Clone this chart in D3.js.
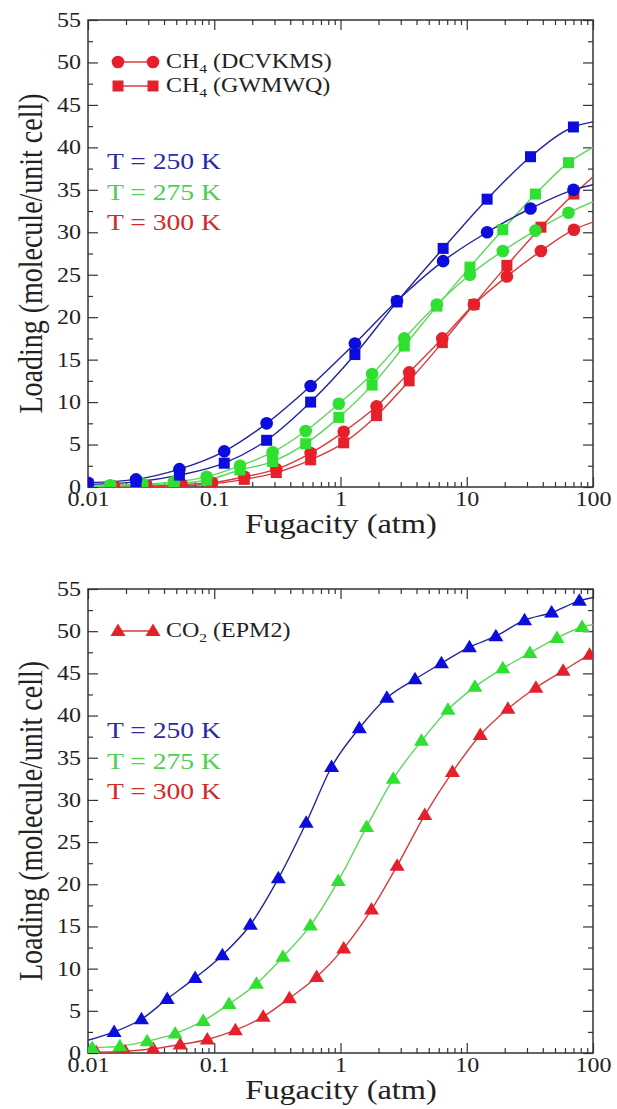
<!DOCTYPE html>
<html lang="en">
<head>
<meta charset="UTF-8">
<title>Methane and CO2 adsorption isotherms</title>
<script src="https://cdn.jsdelivr.net/npm/d3@7"></script>
<style>
  body { margin: 0; background: #fff; }
  svg { display: block; }
  svg text { font-family: "Liberation Serif", "Times New Roman", serif; }
</style>
</head>
<body>
<svg width="617" height="1109"></svg>
<script>
// ---- tick values / labels ----
const fugacityTicks = [0.01, 0.1, 1, 10, 100];
const fugacityLabels = ['0.01', '0.1', '1', '10', '100'];
const loadingTicks = [0, 5, 10, 15, 20, 25, 30, 35, 40, 45, 50, 55];
const tempLabels = ['T = 250 K', 'T = 275 K', 'T = 300 K'];

// ---- CH4 (top panel) ----
const ch4F250 = [0.01, 0.024, 0.053, 0.12, 0.26, 0.58, 1.3, 2.8, 6.5, 14.5, 32, 70];
const ch4Dcvkms250 = [0.5, 0.9, 2.1, 4.2, 7.5, 11.9, 16.9, 21.9, 26.6, 30.0, 32.8, 35.0];
const ch4Gwmwq250 = [0.3, 0.6, 1.4, 2.8, 5.5, 10.0, 15.6, 21.8, 28.1, 33.9, 38.9, 42.4];

const ch4F275 = [0.015, 0.027, 0.048, 0.087, 0.16, 0.29, 0.53, 0.97, 1.78, 3.2, 5.8, 10.6, 19.3, 35, 64];
const ch4Dcvkms275 = [0.2, 0.35, 0.6, 1.2, 2.5, 4.1, 6.6, 9.8, 13.3, 17.5, 21.5, 25.0, 27.8, 30.2, 32.3];
const ch4Gwmwq275 = [0.1, 0.2, 0.4, 0.8, 2.0, 3.0, 5.1, 8.2, 12.0, 16.6, 21.3, 25.9, 30.3, 34.5, 38.2];

const ch4F300 = [0.016, 0.029, 0.055, 0.096, 0.173, 0.31, 0.58, 1.06, 1.93, 3.5, 6.4, 11.4, 20.8, 38.7, 70.6];
const ch4Dcvkms300 = [0.05, 0.15, 0.3, 0.5, 1.2, 2.1, 4.0, 6.5, 9.5, 13.5, 17.5, 21.5, 24.8, 27.8, 30.3];
const ch4Gwmwq300 = [0.0, 0.05, 0.15, 0.35, 0.9, 1.7, 3.2, 5.2, 8.4, 12.5, 17.0, 21.5, 26.1, 30.6, 34.5];

// where the fitted curves meet the axes (loading at f = 0.01 and f = 100)
const ch4Dcvkms250Ends = [0.5, 35.6];
const ch4Gwmwq250Ends = [0.3, 43.0];
const ch4Dcvkms275Ends = [0.15, 33.6];
const ch4Gwmwq275Ends = [0.05, 40.0];
const ch4Dcvkms300Ends = [0.0, 31.2];
const ch4Gwmwq300Ends = [0.0, 36.5];

// ---- CO2 (bottom panel) ----
const co2F250 = [0.0161, 0.0265, 0.0424, 0.0706, 0.116, 0.193, 0.322, 0.535, 0.85, 1.41, 2.33, 3.89, 6.3, 10.5, 17.0, 28.7, 47, 78];
const co2Epm2250 = [2.5, 4.0, 6.4, 8.9, 11.6, 15.2, 20.7, 27.3, 33.9, 38.5, 42.1, 44.3, 46.2, 48.1, 49.4, 51.3, 52.2, 53.6];

const co2F275 = [0.0108, 0.0179, 0.0294, 0.049, 0.0818, 0.131, 0.216, 0.35, 0.577, 0.96, 1.61, 2.62, 4.38, 7.1, 11.6, 19.3, 31.6, 51.8, 82];
const co2Epm2275 = [0.6, 0.8, 1.4, 2.3, 3.8, 5.8, 8.2, 11.4, 15.1, 20.4, 26.8, 32.5, 37.0, 40.7, 43.4, 45.6, 47.4, 49.2, 50.5];

const co2F300 = [0.0116, 0.0197, 0.0328, 0.0537, 0.0881, 0.147, 0.244, 0.394, 0.647, 1.06, 1.76, 2.81, 4.65, 7.7, 12.8, 21.2, 35.3, 58, 94];
const co2Epm2300 = [0.1, 0.2, 0.5, 1.0, 1.6, 2.7, 4.3, 6.5, 9.0, 12.4, 17.0, 22.2, 28.2, 33.3, 37.7, 40.8, 43.3, 45.3, 47.2];

const co2Epm2250Ends = [1.5, 54.0];
const co2Epm2275Ends = [0.5, 50.8];
const co2Epm2300Ends = [0.1, 47.4];

// ---- styling ----
const FONT = '"Liberation Serif", "Times New Roman", serif';
const SX = 1.2; // the source figure's lettering is a little wide
const colors = {
  250: { mark: '#0c0cdc', line: '#23239c', text: '#2b2ba6' },
  275: { mark: '#30e030', line: '#5ad85a', text: '#4fcf4f' },
  300: { mark: '#e6202a', line: '#d83a3a', text: '#d02a2a' }
};

const svg = d3.select('svg');
svg.append('rect').attr('width', 617).attr('height', 1109).attr('fill', '#fff');

const left = 88, right = 593;

const x = d3.scaleLog().domain([0.01, 100]).range([left, right]);

const minorX = [];
[0.01, 0.1, 1, 10].forEach(d => d3.range(2, 10).forEach(m => minorX.push(d * m)));
const minorY = d3.range(2.5, 55, 5);

const markerPath = {
  circle: d3.symbol().type(d3.symbolCircle).size(125)(),
  square: 'M-5.5,-5.5H5.5V5.5H-5.5Z',
  triangle: 'M0,-7.5L7.5,5L-7.5,5Z'
};

function zip(fs, vs) {
  return fs.map((f, i) => ({ f: f, v: vs[i] }));
}

// move x/y into a transform so the glyphs can be widened in place
function widen(sel) {
  sel.each(function () {
    const t = d3.select(this);
    const tx = +t.attr('x') || 0, ty = +t.attr('y') || 0;
    t.attr('x', 0).attr('y', 0).attr('transform', `translate(${tx},${ty}) scale(${SX},1)`);
  });
}

function drawPanel(top, bottom, series, legend) {
  const y = d3.scaleLinear().domain([0, 55]).range([bottom, top]);
  const g = svg.append('g');
  const clipId = 'clip' + top;

  g.append('clipPath').attr('id', clipId)
    .append('rect').attr('x', left).attr('y', top).attr('width', right - left).attr('height', bottom - top);

  // axes (ticks inward on all four sides)
  const axes = [
    [d3.axisLeft(y).tickValues(loadingTicks).tickSize(-10).tickPadding(7).tickFormat(d3.format('d')), `translate(${left},0)`],
    [d3.axisLeft(y).tickValues(minorY).tickSize(-5).tickFormat(''), `translate(${left},0)`],
    [d3.axisRight(y).tickValues(loadingTicks).tickSize(-10).tickFormat(''), `translate(${right},0)`],
    [d3.axisRight(y).tickValues(minorY).tickSize(-5).tickFormat(''), `translate(${right},0)`],
    [d3.axisBottom(x).tickValues(fugacityTicks).tickSize(-10).tickPadding(5).tickFormat((d, i) => fugacityLabels[i]), `translate(0,${bottom})`],
    [d3.axisBottom(x).tickValues(minorX).tickSize(-5).tickFormat(''), `translate(0,${bottom})`],
    [d3.axisTop(x).tickValues(fugacityTicks).tickSize(-10).tickFormat(''), `translate(0,${top})`],
    [d3.axisTop(x).tickValues(minorX).tickSize(-5).tickFormat(''), `translate(0,${top})`]
  ];
  axes.forEach(([axis, tr]) => {
    const a = g.append('g').attr('transform', tr).call(axis)
      .attr('font-family', FONT).attr('font-size', 20);
    a.select('.domain').remove();
    a.selectAll('line').attr('stroke', '#333').attr('stroke-width', 1.2);
    a.selectAll('text').attr('fill', '#222').call(widen);
  });

  g.append('rect')
    .attr('x', left).attr('y', top).attr('width', right - left).attr('height', bottom - top)
    .attr('fill', 'none').attr('stroke', '#333').attr('stroke-width', 1.5);

  // curves
  const line = d3.line().x(d => x(d.f)).y(d => y(d.v)).curve(d3.curveMonotoneX);
  const plot = g.append('g').attr('clip-path', `url(#${clipId})`);

  series.forEach(s => {
    const pts = zip(s.f, s.v);
    const full = [{ f: 0.01, v: s.ends[0] }].concat(pts.filter(p => p.f > 0.01), [{ f: 100, v: s.ends[1] }]);
    plot.append('path')
      .attr('d', line(full))
      .attr('fill', 'none')
      .attr('stroke', colors[s.temp].line)
      .attr('stroke-width', 1.4);
  });
  series.forEach(s => {
    plot.selectAll(null)
      .data(zip(s.f, s.v))
      .enter().append('path')
      .attr('d', markerPath[s.shape])
      .attr('transform', d => `translate(${x(d.f)},${y(d.v)})`)
      .attr('fill', colors[s.temp].mark);
  });

  // axis titles
  g.append('text')
    .attr('transform', `translate(31,${(top + bottom) / 2}) rotate(-90) scale(1,${SX})`)
    .attr('text-anchor', 'middle').attr('dominant-baseline', 'central')
    .attr('font-family', FONT).attr('font-size', 28).attr('fill', '#222')
    .text('Loading (molecule/unit cell)');
  g.append('text')
    .attr('x', 341).attr('y', bottom + 46)
    .attr('text-anchor', 'middle')
    .attr('font-family', FONT).attr('font-size', 27).attr('fill', '#222')
    .text('Fugacity (atm)')
    .call(widen);

  // legend
  legend.forEach((item, i) => {
    const ly = top + 42 + i * 24;
    g.append('line').attr('x1', 118).attr('x2', 153).attr('y1', ly).attr('y2', ly)
      .attr('stroke', colors[300].line).attr('stroke-width', 1.4);
    [118, 153].forEach(mx => g.append('path')
      .attr('d', markerPath[item.shape])
      .attr('transform', `translate(${mx},${ly})`)
      .attr('fill', colors[300].mark));
    const t = g.append('text').attr('x', 166).attr('y', ly + 6)
      .attr('font-family', FONT).attr('font-size', 20).attr('fill', '#222');
    t.append('tspan').text(item.name);
    t.append('tspan').attr('font-size', 13).attr('dy', 5).text(item.sub);
    t.append('tspan').attr('dy', -5).text('\u00a0' + item.model);
    t.call(widen);
  });

  // temperature labels
  [250, 275, 300].forEach((temp, i) => {
    g.append('text')
      .attr('x', 107).attr('y', top + 141 + i * 30.5)
      .attr('dominant-baseline', 'central')
      .attr('font-family', FONT).attr('font-size', 23)
      .attr('fill', colors[temp].text)
      .text(tempLabels[i])
      .call(widen);
  });
}

drawPanel(20, 487, [
  { temp: 300, shape: 'circle', f: ch4F300, v: ch4Dcvkms300, ends: ch4Dcvkms300Ends },
  { temp: 300, shape: 'square', f: ch4F300, v: ch4Gwmwq300, ends: ch4Gwmwq300Ends },
  { temp: 275, shape: 'circle', f: ch4F275, v: ch4Dcvkms275, ends: ch4Dcvkms275Ends },
  { temp: 275, shape: 'square', f: ch4F275, v: ch4Gwmwq275, ends: ch4Gwmwq275Ends },
  { temp: 250, shape: 'circle', f: ch4F250, v: ch4Dcvkms250, ends: ch4Dcvkms250Ends },
  { temp: 250, shape: 'square', f: ch4F250, v: ch4Gwmwq250, ends: ch4Gwmwq250Ends }
], [
  { shape: 'circle', name: 'CH', sub: '4', model: '(DCVKMS)' },
  { shape: 'square', name: 'CH', sub: '4', model: '(GWMWQ)' }
]);

drawPanel(589, 1053, [
  { temp: 300, shape: 'triangle', f: co2F300, v: co2Epm2300, ends: co2Epm2300Ends },
  { temp: 275, shape: 'triangle', f: co2F275, v: co2Epm2275, ends: co2Epm2275Ends },
  { temp: 250, shape: 'triangle', f: co2F250, v: co2Epm2250, ends: co2Epm2250Ends }
], [
  { shape: 'triangle', name: 'CO', sub: '2', model: '(EPM2)' }
]);
</script>
</body>
</html>
